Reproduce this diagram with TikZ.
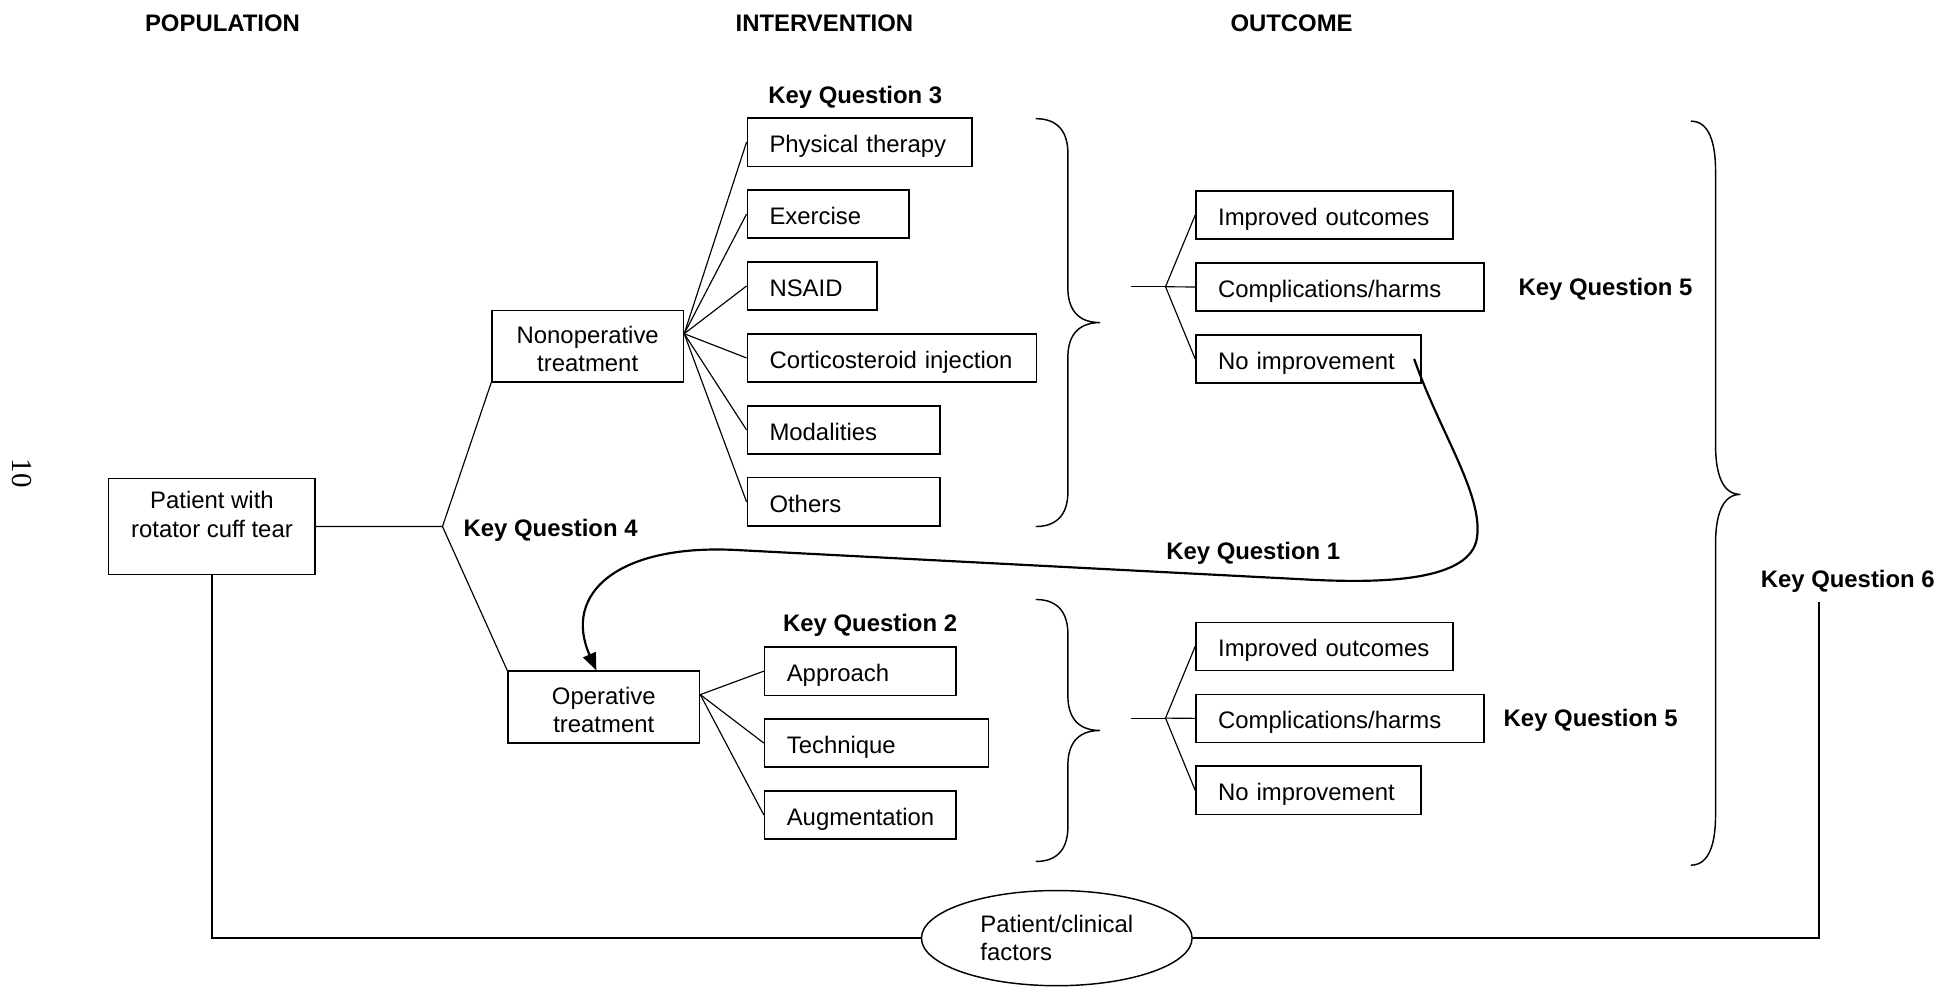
\documentclass[tikz,border=0pt]{standalone}
\usepackage{fontspec}
\setmainfont{Liberation Sans}
\newfontfamily\pagenumfont{Liberation Serif}
\usetikzlibrary{shapes.geometric,arrows.meta}

\newdimen\pxu \pxu=0.03cm
\newcommand\diagfont{\fontsize{16.5}{19.6}\selectfont}

\tikzset{
  box/.style={draw, line width=1pt, minimum height=39\pxu, inner xsep=18\pxu,
    inner ysep=0pt, align=left, anchor=west, text height=14.5pt, text depth=0pt},
  tbox/.style={draw, line width=1pt, minimum width=155\pxu, minimum height=58\pxu,
    align=center, inner sep=0pt, text height=35.8pt},
  kq/.style={font=\diagfont\bfseries, yshift=-2\pxu},
  fan/.style={line width=0.8pt},
}

\begin{document}
\begin{tikzpicture}[x=0.03cm, y=-0.03cm, font=\diagfont]
    \useasboundingbox (0,0) rectangle (1568,799);
    \def\rowgap{58.2} % distance between the small boxes

    % curly brace: left x, top y, bottom y, tip y, half width, curl
    \def\wbrace#1#2#3#4#5#6{%
        \draw[line width=1pt] (#1,#2) .. controls +(0.75*#5,0) and +(0,-0.55*#6) .. (#1+#5,#2+#6)
            -- (#1+#5,#4-#6) .. controls +(0,0.55*#6) and +(-0.75*#5,0) .. (#1+2*#5,#4)
            .. controls +(-0.75*#5,0) and +(0,-0.55*#6) .. (#1+#5,#4+#6)
            -- (#1+#5,#3-#6) .. controls +(0,0.55*#6) and +(0.75*#5,0) .. (#1,#3);}

    \node[kq] (hpop) at (180,17) {POPULATION};
    \node[kq] (hint) at (667,17) {INTERVENTION};
    \node[kq] (hout) at (1045,17) {OUTCOME};
    \node[font=\pagenumfont\fontsize{20}{24}\selectfont, rotate=-90] (pnum) at (18,383) {10};

    % population
    \node[draw, line width=1pt, minimum width=167\pxu, minimum height=78\pxu,
        label={[align=center, anchor=north, yshift=-7\pxu]north:Patient with\\rotator cuff tear}]
        (pat) at (171.5,426) {};

    \node[tbox] (nonop) at (475.5,280) {Nonoperative\\treatment};
    \node[tbox] (op) at (488.5,572) {Operative\\treatment};

    \coordinate (kq4pt) at (358,426);
    \draw[fan] (pat.east) -- (kq4pt) -- (nonop.south west);
    \draw[fan] (kq4pt) -- (op.north west);
    \node[kq, anchor=west] (kq4) at (371,427) {Key Question 4};

    % nonoperative
    \node[kq] (kq3) at (692,77) {Key Question 3};
    \coordinate (nonfan) at ([yshift=10\pxu]nonop.east);
    \foreach[count=\i] \name/\txt/\w in {pt/Physical therapy/146, ex/Exercise/95,
            nsaid/NSAID/69, cort/Corticosteroid injection/198, mod/Modalities/120, oth/Others/120}
    {
        \node[box, text width=\w\pxu] (\name) at (604,115+\rowgap*\i-\rowgap) {\txt};
        \draw[fan] (nonfan) -- (\name.west);
    }
    \wbrace{838}{96}{426}{261}{26}{28}

    \coordinate (ostart1) at (915,232);
    \coordinate (oapex1) at (943,232);
    \draw[fan] (ostart1) -- (oapex1);
    \foreach[count=\i] \name/\txt/\w in {imp1/Improved outcomes/172,
            comp1/{Complications/harms}/197, nimp1/No improvement/146}
    {
        \node[box, text width=\w\pxu] (\name) at (967,174+\rowgap*\i-\rowgap) {\txt};
        \draw[fan] (oapex1) -- (\name.west);
    }
    \node[kq] (kq5a) at (1299,232) {Key Question 5};

    % operative
    \node[kq] (kq2) at (704,504) {Key Question 2};
    \coordinate (opfan) at ([yshift=10\pxu]op.east);
    \foreach[count=\i] \name/\txt/\w in {appr/Approach/119, tech/Technique/145, aug/Augmentation/119}
    {
        \node[box, text width=\w\pxu] (\name) at (618,543+\rowgap*\i-\rowgap) {\txt};
        \draw[fan] (opfan) -- (\name.west);
    }
    \wbrace{838}{485}{697}{591}{26}{28}

    \coordinate (ostart2) at (915,581);
    \coordinate (oapex2) at (943,581);
    \draw[fan] (ostart2) -- (oapex2);
    \foreach[count=\i] \name/\txt/\w in {imp2/Improved outcomes/172,
            comp2/{Complications/harms}/197, nimp2/No improvement/146}
    {
        \node[box, text width=\w\pxu] (\name) at (967,523+\rowgap*\i-\rowgap) {\txt};
        \draw[fan] (oapex2) -- (\name.west);
    }
    \node[kq] (kq5b) at (1287,581) {Key Question 5};

    % everything
    \wbrace{1368}{98}{700}{400}{20}{40}
    \node[kq] (kq6) at (1495,468) {Key Question 6};
    \coordinate (kq6end) at (1472,487);

    \node[draw, ellipse, line width=1pt, minimum width=219\pxu, minimum height=77\pxu,
        inner sep=0pt, align=left] (fac) at (855,759) {Patient/clinical\\factors};
    \draw[line width=1.3pt] (pat.south) |- (fac.west);
    \draw[line width=1.3pt] (fac.east) -| (kq6end);

    % no improvement -> surgery
    \node[kq] (kq1) at (1014,446) {Key Question 1};
    \draw[line width=1.5pt, -{Triangle[length=4.2mm, width=3.3mm]}]
        ([xshift=-6\pxu]nimp1.east) .. controls (1165,350) and (1200,400) .. (1195,435)
        .. controls (1190,470) and (1120,472) .. (1060,469) -- (596,445)
        .. controls (500,440) and (455,480) .. ([xshift=-6\pxu]op.north);
\end{tikzpicture}
\end{document}
